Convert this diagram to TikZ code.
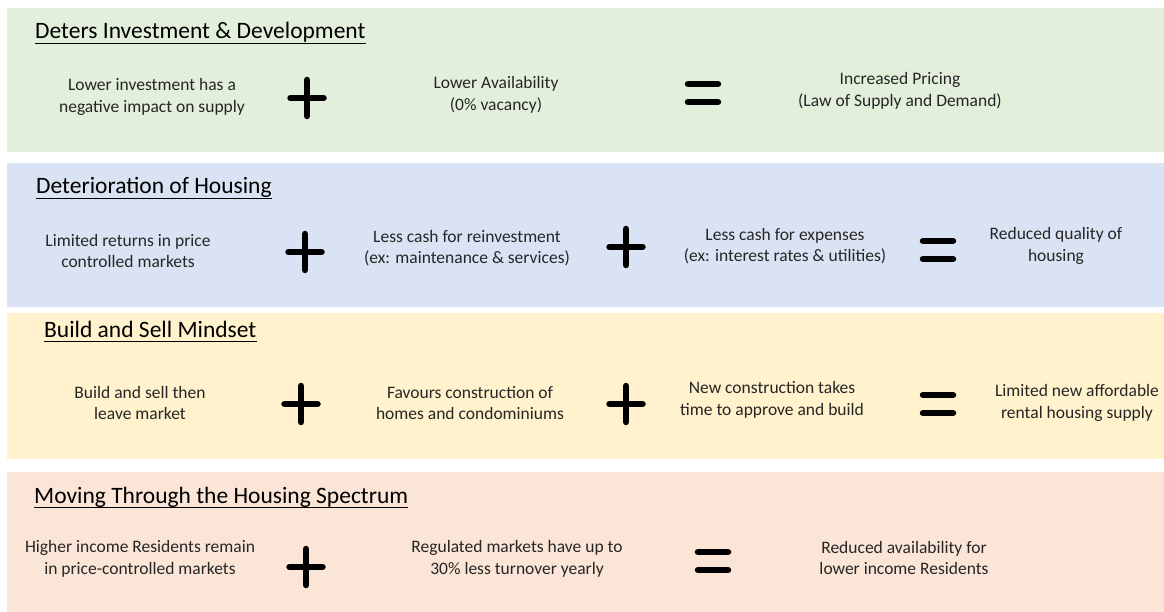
\documentclass[tikz,border=0pt]{standalone}
\usepackage{fontspec}
\setmainfont{Carlito}
\usepackage{tikz}
\definecolor{G}{RGB}{226,239,218}
\definecolor{B}{RGB}{218,227,243}
\definecolor{Y}{RGB}{255,242,204}
\definecolor{P}{RGB}{251,229,214}
\definecolor{ink}{RGB}{38,38,38}
\newcommand{\drawsign}{\draw[line width=6.5pt, line cap=round]}
\newcommand{\plusat}[2]{\drawsign (#1-16.5,#2)--(#1+16.5,#2) (#1,#2-18)--(#1,#2+18);}
\newcommand{\equalsat}[2]{\drawsign (#1-15,#2-9)--(#1+15,#2-9) (#1-15,#2+9)--(#1+15,#2+9);}
\newcommand{\heading}[4]{
    \node[anchor=base west, inner sep=0pt, font=\fontsize{23.5}{28}\selectfont] (#1) at (#2,#3) {#4};
    \draw[line width=1.3pt] ([yshift=-4.5pt]#1.base west)--([yshift=-4.5pt]#1.base east);
}
\tikzset{
  cell/.style={align=center, inner sep=0pt, text=ink, font=\fontsize{17.5}{21.5}\selectfont}
}

\begin{document}
\begin{tikzpicture}[x=1pt, y=-1pt]
\useasboundingbox (0,0) rectangle (1164,612);
\fill[white] (0,0) rectangle (1164,612);
\fill[G] (7,8) rectangle (1164,152);
\fill[B] (7,163) rectangle (1164,307);
\fill[Y] (7,313) rectangle (1164,459);
\fill[P] (7,472) rectangle (1164,612);

\heading{deters}{35}{39}{Deters Investment \& Development}
\node[cell] (lowinvest) at (152,97) {Lower investment has a\\negative impact on supply};
\plusat{307}{98}
\node[cell] (lowavail) at (496,95) {Lower Availability\\(0\% vacancy)};
\equalsat{703}{93}
\node[cell] (pricing) at (900,91) {Increased Pricing\\(Law of Supply and Demand)};

\heading{deterior}{36}{194}{Deterioration of Housing}
\node[cell] (returns) at (128,251) {Limited returns in price\\controlled markets};
\plusat{305}{252}
\node[cell] (reinvest) at (467,248) {Less cash for reinvestment\\(ex: maintenance \& services)};
\plusat{626}{247}
\node[cell] (expenses) at (785,246) {Less cash for expenses\\(ex: interest rates \& utilities)};
\equalsat{938}{250}
\node[cell] (quality) at (1056,246) {Reduced quality of\\housing};

\heading{mindset}{44}{337}{Build and Sell Mindset}
\node[cell] (sell) at (140,403) {Build and sell then\\leave market};
\plusat{301}{404}
\node[cell] (condos) at (470,403) {Favours construction of\\homes and condominiums};
\plusat{626}{404}
\node[cell] (approve) at (772,400) {New construction takes\\time to approve and build};
\equalsat{938}{404}
\node[cell] (rental) at (1077,403) {Limited new affordable\\rental housing supply};

\heading{spectrum}{34}{503}{Moving Through the Housing Spectrum}
\node[cell] (higher) at (140,559) {Higher income Residents remain\\in price-controlled markets};
\plusat{306}{567}
\node[cell] (turnover) at (517,559) {Regulated markets have up to\\30\% less turnover yearly};
\equalsat{713}{561}
\node[cell] (lower) at (904,558) {Reduced availability for\\lower income Residents};
\end{tikzpicture}
\end{document}
